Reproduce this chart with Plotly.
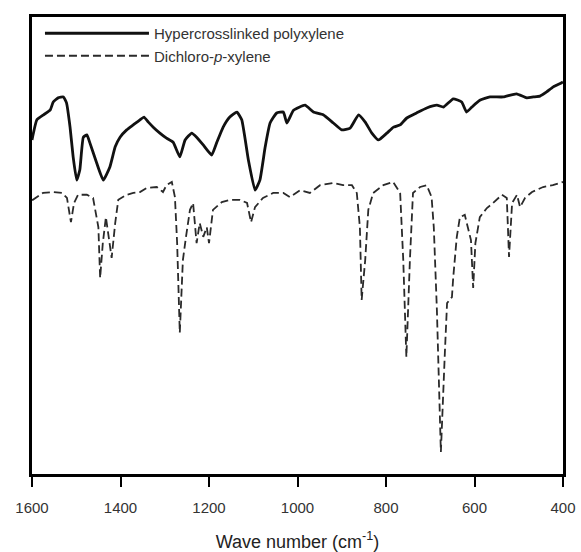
import plotly.graph_objects as go

# Hypercrosslinked polyxylene (solid) - wave number (cm^-1) and transmittance (a.u.)
poly_wn = [1600, 1589, 1574, 1559, 1552, 1541, 1529, 1522, 1514, 1507, 1499, 1492, 1484, 1476,
           1469, 1454, 1439, 1424, 1412, 1401, 1386, 1371, 1356, 1347, 1337, 1326, 1311, 1296,
           1281, 1266, 1254, 1239, 1228, 1213, 1194, 1183, 1168, 1153, 1137, 1126, 1111, 1096,
           1085, 1073, 1062, 1047, 1032, 1024, 1009, 983, 964, 942, 919, 900, 881, 862, 847,
           832, 817, 798, 783, 768, 753, 731, 708, 685, 670, 648, 629, 618, 606, 588, 565,
           535, 505, 482, 467, 452, 437, 422, 403, 400]
poly_t = [73.1, 77.5, 78.6, 79.6, 81.4, 82.3, 82.5, 81.2, 75.9, 69.4, 64.3, 66.5, 73.7, 74.2,
          72.4, 68.1, 64.3, 67.2, 71.6, 73.7, 75.3, 76.4, 77.5, 78.1, 77.0, 75.9, 74.6, 73.5,
          72.6, 69.4, 73.1, 74.6, 73.7, 72.0, 69.8, 72.4, 75.9, 78.1, 79.2, 77.5, 68.7, 62.1,
          64.3, 71.6, 76.8, 79.0, 79.2, 76.8, 79.6, 80.7, 79.2, 78.6, 76.8, 75.3, 75.7, 78.6, 77.0,
          74.6, 73.1, 74.6, 75.9, 76.4, 77.9, 79.0, 80.1, 80.7, 80.3, 82.1, 81.4, 79.2, 80.3, 81.8, 82.5,
          82.5, 83.2, 82.3, 82.5, 82.7, 83.6, 84.7, 85.6, 85.8]

# Dichloro-p-xylene (dashed)
dcx_wn = [1600, 1598, 1575, 1552, 1532, 1521, 1512, 1505, 1496, 1476, 1462, 1450, 1446, 1440,
          1433, 1428, 1420, 1412, 1405, 1386, 1371, 1356, 1341, 1318, 1304, 1296, 1284, 1277,
          1272, 1266, 1259, 1252, 1243, 1236, 1228, 1221, 1213, 1205, 1200, 1191, 1171, 1153,
          1130, 1114, 1105, 1096, 1078, 1055, 1032, 1017, 994, 972, 949, 919, 897, 877, 866,
          859, 855, 847, 840, 829, 806, 784, 768, 761, 754, 746, 739, 723, 708, 697, 692,
          685, 682, 676, 667, 662, 651, 648, 640, 633, 622, 615, 608, 603, 598, 588, 572,
          558, 538, 527, 522, 515, 504, 497, 486, 470, 445, 423, 403, 400]
dcx_t = [60.0, 60.0, 61.5, 61.7, 61.5, 60.4, 55.1, 59.3, 61.1, 61.1, 60.4, 54.0, 42.9, 50.5,
         56.2, 52.7, 47.3, 54.9, 60.0, 61.1, 61.5, 61.7, 62.6, 62.8, 61.7, 63.2, 63.9, 60.6,
         50.5, 30.9, 46.8, 51.9, 57.8, 59.3, 50.5, 54.9, 51.9, 54.0, 50.5, 57.8, 59.5, 60.0,
         60.0, 59.3, 55.1, 58.4, 60.4, 61.5, 61.5, 60.6, 62.1, 61.5, 63.2, 63.7, 63.2, 63.2, 61.5,
         54.0, 38.1, 46.8, 57.8, 61.5, 63.2, 63.9, 61.5, 46.8, 25.6, 46.8, 61.5, 62.8, 63.2, 60.6, 54.0,
         35.9, 24.9, 4.8, 26.5, 37.4, 38.7, 43.1, 51.9, 56.2, 56.7, 54.0, 51.2, 40.7, 50.5, 56.2, 58.2,
         59.3, 61.1, 60.4, 47.5, 59.3, 61.1, 58.4, 60.4, 61.7, 62.8, 63.2, 63.9, 63.9]

x_ticks = [1600, 1400, 1200, 1000, 800, 600, 400]
names = ["Hypercrosslinked polyxylene", "Dichloro-<i>p</i>-xylene"]

fig = go.Figure()
fig.add_trace(go.Scatter(x=poly_wn, y=poly_t, mode="lines", name=names[0],
                         line=dict(color="#111111", width=2.8, shape="spline", smoothing=0.4)))
fig.add_trace(go.Scatter(x=dcx_wn, y=dcx_t, mode="lines", name=names[1],
                         line=dict(color="#2a2a2a", width=1.8, dash="8px,4px")))

fig.update_layout(
    width=581, height=552,
    margin=dict(l=32, r=18, t=17, b=78),
    paper_bgcolor="white", plot_bgcolor="white",
    font=dict(family="Liberation Sans, Arial, sans-serif", color="#333333", size=14),
    showlegend=True,
    legend=dict(x=0.015, y=1.0, xanchor="left", yanchor="top", bgcolor="rgba(0,0,0,0)",
                font=dict(size=15, color="#333333"), itemwidth=104,
                traceorder="normal"),
    xaxis=dict(range=[1600, 400], tickvals=x_ticks, ticks="outside", ticklen=10, tickwidth=2,
               tickcolor="black", showline=True, linecolor="black", linewidth=2.5, mirror=True,
               showgrid=False, zeroline=False, ticklabelstandoff=8, automargin=False,
               tickfont=dict(size=15, color="#333333"),
               title=dict(text="Wave number (cm<sup>-1</sup>)", font=dict(size=18, color="#222222"),
                          standoff=28)),
    yaxis=dict(range=[0, 100], showticklabels=False, ticks="", showline=True, linecolor="black",
               linewidth=2.5, mirror=True, showgrid=False, zeroline=False),
)

fig.write_html("out.html")
